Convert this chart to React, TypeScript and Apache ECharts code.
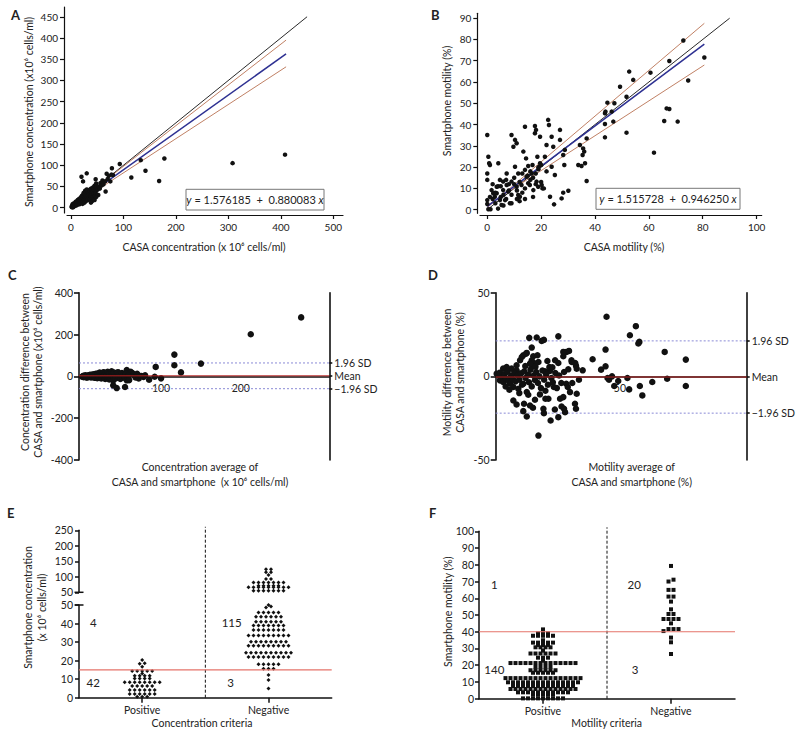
import React, { useEffect, useRef } from 'react';
import * as echarts from 'echarts';

const FONT = 'Lato, "Noto Sans", sans-serif';
const INK = '#111111';
const TXT = '#222222';
const RED = '#e5736a';
const BROWN = '#b0603c';
const BLUE = '#2e3192';
const SDBLUE = '#8a8ad6';
const MEANRED = '#b52020';

// ---------------- Panel A ----------------
const aTicksX = [0, 100, 200, 300, 400, 500];
const aTicksY = [0, 50, 100, 150, 200, 250, 300, 350, 400, 450];
const aPoints = [[408,125],[308,105],[178,116],[168,63],[142,87],[133,112],[115,71],[93,103],[78,93],[77,78],[68,80],[66,38],[30,81],[20,73],[23,62],[47,67],[60,64],
[1,2],[2,1],[2,5],[3,3],[3,8],[4,4],[4,1],[5,6],[5,10],[6,3],[6,7],[7,9],[7,5],[8,11],[8,6],[9,8],[9,14],[10,10],[10,5],[11,13],[11,9],[12,16],[12,7],[13,12],[13,18],[14,10],[14,15],[15,20],[15,13],[16,8],[16,17],[17,22],[17,14],[18,11],[18,19],[19,25],[19,16],[20,13],[20,20],[21,28],[21,18],[22,9],[22,24],[23,15],[23,30],[24,21],[24,35],[25,18],[25,27],[26,12],[26,33],[27,24],[27,40],[28,20],[28,30],[29,16],[29,36],[30,26],[30,43],[31,22],[31,32],[32,18],[32,38],[33,28],[34,24],[34,35],[35,42],[35,30],[36,20],[36,38],[37,33],[38,27],[38,45],[39,36],[40,30],[40,42],[41,24],[42,38],[42,48],[43,33],[44,44],[45,28],[45,52],[46,40],[47,35],[48,48],[48,57],[50,42],[52,30],[53,50],[55,45],[56,58],[58,52],[60,60],[62,55],[65,62],[70,68],[72,75],[75,62],[80,77],[40,15],[43,20],[38,12],[45,18],[50,30],[48,25]];
const aIdentity = [[0, 0], [450, 450]];
const aFit = [[0, 1.576], [410, 362.4]];
const aBandUpper = [[0, 1.5], [410, 395]];
const aBandLower = [[0, 1.5], [410, 332]];
const aEquation = ['1.576185', '0.880083'];

// ---------------- Panel B ----------------
const bTicksX = [0, 20, 40, 60, 80, 100];
const bTicksY = [0, 10, 20, 30, 40, 50, 60, 70, 80, 90];
const bPoints = [[0,35.1],[0,17],[0,14],[0.4,24.9],[0.7,21.8],[1,21],[0,4.5],[0,2.7],[0.4,0.2],[1.2,0.2],[1.6,9.2],[2.2,7.7],[2.8,6.1],[3.5,7.7],[3.5,10.8],[4.1,21.8],[4.7,14],[4.7,4.5],[5.3,2.2],[5.9,9.2],[5.9,13.2],[6.6,4.5],[7.2,17],[7.2,11.6],[7.8,8.5],[8.4,3],[9,35.1],[9,13.2],[9.7,29.6],[10.3,32.8],[10.9,31.2],[10.3,20.2],[10.9,10.8],[11.5,17],[11.5,6.9],[12.1,6.1],[12.7,11.6],[13.4,27.3],[14,18.7],[14,39],[14.4,24.1],[14.6,15.5],[15.2,20.5],[15.2,12.4],[15.8,11.6],[16.5,17],[16.8,21],[17.1,9.2],[17.7,39.3],[17.7,35.9],[18.1,37.5],[18.3,13.2],[18.6,24.9],[18.9,10.8],[19.6,21.8],[19.6,34.3],[20.2,11.6],[20.5,10],[21.4,24.9],[22,30.4],[22.6,42.2],[22.9,39.8],[23.3,6.1],[23.9,34.3],[23.9,20.2],[24.5,29.6],[24.8,2.5],[25.1,16.3],[27,37.5],[27,32.8],[27.6,5.3],[28.2,25.7],[28.6,21],[28.2,8],[28.8,28.1],[30.1,8.9],[33.8,21],[34.4,30.4],[35,20.5],[35.4,25.7],[35.6,28.8],[36,27.3],[36.3,21.8],[36.9,33.5],[36.9,13.5],[43.7,45.3],[43.9,46.1],[43.7,40.3],[43.7,34],[44.6,50.3],[46.2,46.1],[46.8,41.4],[47.2,50],[49.3,57.8],[51.7,53.1],[51.7,36.2],[52.7,64.9],[54.2,61],[60.6,64.4],[61.9,26.8],[65.7,41.7],[66.6,47.6],[67.6,47.3],[67.6,69.9],[70.7,41.4],[72.8,79.5],[74.6,60.7],[80.6,71.5],
[2,5],[3,8],[3,3],[4,11],[5,6],[6,7],[6,2],[7,5],[8,12],[8,9],[9,7],[9,3],[10,12],[11,9],[11,5],[12,13],[12,4],[13,8],[13,17],[14,10],[15,16],[16,18],[17,15],[17,6],[18,12],[19,19],[20,13],[21,10],[4,0.5],[1,6],[2,12],[5,11],[7,14],[10,15],[14,5],[16,14],[18,17],[19,20],[20,21],[22,18]];
const bIdentity = [[0, 0], [90, 90]];
const bFit = [[0, 1.516], [80.6, 77.8]];
const bBandUpper = [[0, 1], [80.6, 87.6]];
const bBandLower = [[0, 2], [80.6, 68]];
const bEquation = ['1.515728', '0.946250'];

// ---------------- Panel C ----------------
const cTicksY = [-400, -200, 0, 200, 400];
const cTicksX = [100, 200];
const cPoints = [[275.7,282],[212.5,201.6],[116.7,104],[116.7,53],[150,61],[125,19],[93.3,45],[100,-9.6],[85,-16],[54.8,-51],[44.4,-56],[40,-43],[57,-19],[78,-3],[64,16],[57,30],[62,22],
[1,-2],[2,1],[3,-4],[3,3],[4,0],[5,-3],[5,5],[6,2],[7,-1],[7,-6],[8,4],[9,0],[9,-3],[10,6],[10,-2],[11,2],[12,-5],[12,8],[13,0],[14,3],[14,-4],[15,10],[15,-1],[16,5],[17,-7],[17,2],[18,12],[18,-3],[19,6],[20,0],[20,-9],[21,8],[21,14],[22,-2],[22,4],[23,-6],[23,18],[24,2],[25,10],[25,-10],[26,-1],[26,5],[27,13],[27,-4],[28,20],[28,0],[29,-8],[29,8],[30,3],[30,-12],[31,15],[31,-2],[32,6],[33,-5],[33,22],[34,1],[34,11],[35,-15],[35,-3],[36,8],[36,17],[37,-8],[38,3],[38,24],[39,-1],[39,12],[40,-20],[40,6],[41,-4],[41,18],[42,9],[43,0],[43,-10],[44,14],[45,4],[45,-6],[46,20],[47,-2],[48,10],[49,-12],[50,3],[51,16],[52,-5],[53,7],[54,0],[55,-8],[56,12],[58,-3],[59,5],[60,-18],[66,8],[68,-5],[70,12],[72,-10],[75,2],[80,5],[92,-2]];
const cMean = 2.5;
const cSdUpper = 64;
const cSdLower = -59;

// ---------------- Panel D ----------------
const dTicksY = [-50, 0, 50];
const dTicksX = [50];
const dPoints = [[44.6,35.6],[56.4,30],[54,24.6],[57.8,20.6],[57.4,19.6],[68,14.6],[76.5,10],[39,10.2],[42.4,4],[44.2,6],[44.2,16],[35,3.6],[45,-1],[45.6,-2],[46.8,0],[47.7,-5.8],[49.3,-2.8],[53,-1],[53.7,-7.8],[58,-5.8],[59,-11.4],[63,-3.4],[69,-1.4],[76.5,-5.8],
[13.5,23],[16.5,23.2],[18.5,21.2],[19.4,21.8],[25.2,23.9],[14.5,17.2],[11.1,12.6],[12.5,14],[15.1,12],[14.5,9.6],[15.4,8],[14.9,6],[27.2,12],[28.5,14.6],[29.5,15.2],[30.5,9.6],[32,8],[32.3,6.4],[20.8,9.2],[25.2,8],[21.8,3.2],[19.8,3],[27.5,2.6],[29.2,4.2],[23.9,9.6],[27.2,14.6],[30.6,8.6],[32.6,4.6],[16.8,12.6],[17.2,8.6],[9.8,9.6],[10.5,11.6],[12.2,13.6],[13.8,7.6],[8.4,6.6],[8.4,3.6],[6.4,4.6],[4.4,5.6],[3,4.6],
[0.4,1.6],[1,0.6],[1.7,2.2],[2.3,-0.6],[1.7,-2.4],[3,-3.4],[3.6,1.2],[4.2,-1.5],[4.8,2.8],[5.2,-2.6],[5.8,-4.4],[6.2,0.4],[6.9,-1.8],[7.1,-6.4],[7.5,2],[8,-3],[8.8,0.8],[9.1,-7.4],[9.5,-2],[10.2,1.8],[10.6,-5],[11.1,-4.4],[11.5,3],[12,-1],[12.5,-9.4],[13,1],[13.4,-3.5],[14,4],[14.5,-6],[15.2,0.5],[15.8,-2.2],[16.3,2.6],[17,-4],[17.6,0],[18.2,-7],[18.8,3.5],[19.5,-2],[20.3,1],[21,-5],[21.6,5.5],[22.4,-1],[23,-3.6],[24,2],[24.6,-7],[25.5,0.5],[26.4,-4],[20,-8.6],[22.8,5.4],[16,5.8],[11.9,6.2],
[17.2,-35.4],[7.1,-14.4],[8.4,-16.8],[11.1,-20.8],[12.5,-24],[11.4,-16.4],[13.8,-17.4],[15.8,-14],[17.8,-10.8],[19.2,-19.4],[19.4,-22],[22.1,-26.4],[20,-13.4],[23.4,-6.4],[25.2,-24.4],[25.9,-13.4],[26.5,-18],[27.5,-19.4],[27.9,-21.4],[28.4,-4.4],[29,-6.4],[29.9,-9.4],[31.9,-16.4],[32.3,-19.4],[32.6,-10.4],[27.2,-12.4],[21.2,-13.4],[13.1,-11],[9.5,-10],[5.5,-8],[4,-6],[15,-18.8],[23.8,-19.8],[30.8,-4],[33.5,-2]];
const dMean = -0.4;
const dSdUpper = 21.2;
const dSdLower = -22;

// ---------------- Panel E ----------------
const eCategories = ['Positive', 'Negative'];
const eTicksLower = [0, 10, 20, 30, 40, 50];
const eTicksUpper = [50, 100, 150, 200, 250];
const ePositive = [20.3,18.6,18.3,16.7,14.4,14.4,14.4,14.4,14.4,13.0,11.9,11.9,11.9,11.9,10.4,10.4,10.4,10.4,8.3,8.3,8.3,8.3,8.3,8.3,8.3,8.3,6.3,6.3,6.3,6.3,6.3,4.1,4.1,4.1,4.1,4.1,4.1,2.0,2.0,2.0,2.0,2.0,2.0,0.5,0.5,0.5];
const eNegative = [5,9.5,12.2,15.6,15.6,15.6,18,18,18,18,18,22,22,22,22,22,22,22,22,22,24.3,24.3,24.3,24.3,24.3,24.3,24.3,24.3,24.3,24.3,28,28,28,28,28,28,28,28,28,30.2,30.2,30.2,30.2,30.2,30.2,30.2,30.2,33.5,33.5,33.5,33.5,33.5,33.5,33.5,33.5,33.5,36.5,36.5,36.5,36.5,36.5,36.5,36.5,39,39,39,39,39,39,39,41,41,41,41,41,41,43.7,43.7,43.7,43.7,43.7,43.7,45.9,45.9,45.9,45.9,45.9,48.6,49.2,50,
55,55,55,55,55,55,55,66,66,66,66,66,66,66,66,66,71,71,71,71,71,82,82,82,82,82,82,82,93,93,106,115,115,124,124];
const eThreshold = 15;
const eCounts = [[0.613, 40.7, '4'], [0.613, 8.3, '42'], [1.708, 40.7, '115'], [1.70, 8.3, '3']];

// ---------------- Panel F ----------------
const fCategories = ['Positive', 'Negative'];
const fTicksY = [0, 10, 20, 30, 40, 50, 60, 70, 80, 90, 100];
const fPositive = [41.4,39,39,39,37.6,37.6,37.6,37.6,37.6,34.9,33.5,33.5,33.5,33.5,33.5,32.1,32.1,32.1,30.7,30.7,30.7,30.7,28.7,27,27,27,27,27,27,24.5,24.5,24.5,22.7,
21.3,21.3,21.3,21.3,21.3,21.3,21.3,21.3,21.3,21.3,21.3,21.3,21.3,21.3,19,19,19,19,17,17,17,17,17,17,15.5,15.5,15.5,15.5,15.5,
12.3,12.3,12.3,12.3,12.3,12.3,12.3,12.3,12.3,12.3,12.3,12.3,12.3,12.3,12.3,12.3,
9.8,9.8,9.8,9.8,9.8,9.8,9.8,9.8,9.8,9.8,9.8,9.8,9.8,9.8,9.8,
7.6,7.6,7.6,7.6,7.6,7.6,7.6,7.6,7.6,7.6,7.6,7.6,7.6,
5.8,5.8,5.8,5.8,5.8,5.8,5.8,5.8,5.8,5.8,5.8,5.8,5.8,5.8,
3.8,3.8,3.8,3.8,3.8,3.8,3.8,3.8,3.8,3.8,3.8,2.4,2.4,2.4,2.4,2.4,0.2,0.2,0.2,0.2,0.2,0.2,0.2,0.2,0.2];
const fNegative = [79.3,71.1,70,65,65,61,61,58,53.4,50.6,50.6,47.6,47.6,47.6,47.6,45,41.6,41.6,41.6,40.4,36.5,33.7,26.7];
const fThreshold = 40;
const fCounts = [[0.62, 68.3, '1'], [0.62, 17.7, '140'], [1.713, 68.3, '20'], [1.72, 17.7, '3']];

// ---------------- layout ----------------
const G = {
  A: { left: 67, top: 7, width: 276, height: 206 },
  B: { left: 480, top: 13.3, width: 281.7, height: 200 },
  C: { left: 79, top: 292.7, width: 250.3, height: 167.3 },
  D: { left: 495.7, top: 292.7, width: 251, height: 167.3 },
  EU: { left: 79, top: 530.3, width: 252.7, height: 62 },
  EL: { left: 79, top: 605, width: 252.7, height: 92.7 },
  EO: { left: 79, top: 526.7, width: 252.7, height: 171 },
  F: { left: 479, top: 531.3, width: 256, height: 167.4 },
  FO: { left: 479, top: 527.3, width: 256, height: 171.4 },
};
const CX = [-2.9, 311];
const DX = [0, 101];
const CATX = [0.5, 2.5];

// dot-row layout for column scatter (rows of near-equal values spread sideways)
function rowSwarm(values: number[], center: number, tol: number, step: number): number[][] {
  const sorted = [...values].sort((a, b) => a - b);
  const rows: number[][] = [];
  for (const v of sorted) {
    const row = rows[rows.length - 1];
    if (row && v - row[0] <= tol + 1e-9) row.push(v);
    else rows.push([v]);
  }
  const out: number[][] = [];
  rows.forEach((row) => row.forEach((v, i) => out.push([center + (i - (row.length - 1) / 2) * step, v])));
  return out;
}

function axis(p: any) {
  const {
    grid, min, max, ticks, labels, line = 1.2, tickLen = 4, offset = 0, position,
    show = true, fontSize = 10, labelMargin = 6, formatter,
  } = p;
  return {
    type: 'value', gridIndex: grid, min, max, position, offset, show,
    splitLine: { show: false },
    axisLine: { show: true, onZero: false, lineStyle: { color: INK, width: line } },
    axisTick: ticks
      ? { show: true, customValues: ticks, length: tickLen, lineStyle: { color: INK, width: line } }
      : { show: false },
    axisLabel: labels
      ? { show: true, customValues: labels, margin: labelMargin, color: TXT, fontSize, fontFamily: FONT, formatter }
      : { show: false },
  };
}

function txt(x: number, y: number, text: string, o: any = {}) {
  return {
    type: 'text', x, y, rotation: o.rotate ? Math.PI / 2 : 0, z: 100,
    style: {
      text, fill: o.color || TXT, fontSize: o.size || 10.5, fontFamily: FONT,
      fontWeight: o.bold ? 'bold' : 'normal',
      align: o.align || 'center', verticalAlign: 'middle',
      textAlign: o.align || 'center', textVerticalAlign: 'middle',
      lineHeight: o.lh || 13.5,
    },
  };
}

function eqBox(x: number, y: number, w: number, h: number, coef: string[]) {
  return {
    type: 'group', z: 100,
    children: [
      { type: 'rect', shape: { x, y, width: w, height: h }, style: { fill: '#fff', stroke: '#777', lineWidth: 1 } },
      {
        type: 'text', x: x + w / 2, y: y + h / 2,
        style: {
          text: `{i|y} = ${coef[0]}  +  ${coef[1]} {i|x}`,
          fill: TXT, fontSize: 11, fontFamily: FONT,
          align: 'center', verticalAlign: 'middle', textAlign: 'center', textVerticalAlign: 'middle',
          rich: { i: { fontStyle: 'italic', fontSize: 11, fontFamily: FONT, fill: TXT, color: TXT } },
        },
      },
    ],
  };
}

const lineSeries = (xi: number, yi: number, data: number[][], color: string, width: number, type: any = 'solid', z = 3) => ({
  type: 'line', xAxisIndex: xi, yAxisIndex: yi, data, symbol: 'none', silent: true, z,
  lineStyle: { color, width, type, opacity: 1 }, itemStyle: { color },
});

const hLine = (xi: number, yi: number, xr: number[], y: number, color: string, width: number, type: any = 'solid', z = 3) =>
  lineSeries(xi, yi, [[xr[0], y], [xr[1], y]], color, width, type, z);

const countSeries = (xi: number, yi: number, data: any[]) => ({
  type: 'scatter', xAxisIndex: xi, yAxisIndex: yi, data, symbolSize: 0, silent: true, z: 5,
  itemStyle: { color: TXT, opacity: 1 },
  label: { show: true, position: 'inside', formatter: (p: any) => String(p.value[2]), color: TXT, fontSize: 11.5, fontFamily: FONT, textBorderWidth: 0 },
});

const dots = (xi: number, yi: number, data: number[][], size: number, symbol = 'circle') => ({
  type: 'scatter', xAxisIndex: xi, yAxisIndex: yi, data, symbol, symbolSize: size,
  itemStyle: { color: INK, opacity: 1 }, z: 4,
});

function buildOption() {
  const eStep = 5 / (G.EL.width / 2);
  const fStep = 5 / (G.F.width / 2);
  const ePos = rowSwarm(ePositive, 1, 1.0, eStep);
  const eNegLow = rowSwarm(eNegative.filter((v) => v <= 50), 2, 1.0, eStep);
  const eNegUp = rowSwarm(eNegative.filter((v) => v > 50), 2, 2.5, eStep);
  const fPos = rowSwarm(fPositive, 1, 1.3, fStep);
  const fNeg = rowSwarm(fNegative, 2, 1.3, fStep);
  const catFmt = (cats: string[]) => (v: number) => cats[Math.round(v) - 1] || '';
  const sdFmt = (u: number, m: number, l: number) => (v: number) =>
    Math.abs(v - u) < 1e-6 ? '1.96 SD' : Math.abs(v - m) < 1e-6 ? 'Mean' : Math.abs(v - l) < 1e-6 ? '\u22121.96 SD' : '';
  const grids = [G.A, G.B, G.C, G.D, G.EU, G.EL, G.EO, G.F, G.FO].map((g) => ({ ...g, outerBoundsMode: 'none', containLabel: false }));
  // x-axis of the difference plots sits on the zero line (middle of a symmetric range)
  const cZeroOffset = -(G.C.height / 2);
  const dZeroOffset = -(G.D.height / 2);

  const xAxis = [
    axis({ grid: 0, min: -7.6, max: 518.5, ticks: aTicksX, labels: aTicksX, offset: 2, labelMargin: 7 }),
    axis({ grid: 1, min: -2.7, max: 101.9, ticks: bTicksX, labels: bTicksX, offset: 1.7, labelMargin: 7 }),
    axis({ grid: 2, min: CX[0], max: CX[1], labels: cTicksX, line: 1.6, offset: cZeroOffset, labelMargin: 6, fontSize: 10.5 }),
    axis({ grid: 3, min: DX[0], max: DX[1], labels: dTicksX, line: 1.6, offset: dZeroOffset, labelMargin: 6, fontSize: 10.5 }),
    axis({ grid: 4, min: CATX[0], max: CATX[1], show: false }),
    axis({ grid: 5, min: CATX[0], max: CATX[1], ticks: [1, 2], labels: [1, 2], line: 1.5, tickLen: 5, labelMargin: 7, fontSize: 10.5, formatter: catFmt(eCategories) }),
    axis({ grid: 6, min: CATX[0], max: CATX[1], show: false }),
    axis({ grid: 7, min: CATX[0], max: CATX[1], ticks: [1, 2], labels: [1, 2], line: 1.5, tickLen: 5, labelMargin: 7, fontSize: 10.5, formatter: catFmt(fCategories) }),
    axis({ grid: 8, min: CATX[0], max: CATX[1], show: false }),
  ];
  const yAxis = [
    axis({ grid: 0, min: -12.5, max: 473, ticks: aTicksY, labels: aTicksY, offset: 3 }),
    axis({ grid: 1, min: -1.7, max: 92.3, ticks: bTicksY, labels: bTicksY, offset: 2.7 }),
    axis({ grid: 2, min: -400, max: 400, ticks: cTicksY, labels: cTicksY, line: 1.6, tickLen: 5, fontSize: 10.5 }),
    axis({ grid: 2, min: -400, max: 400, position: 'right', ticks: [cSdUpper, cMean, cSdLower], labels: [cSdUpper, cMean, cSdLower], line: 1.6, tickLen: 3, labelMargin: 5, fontSize: 10.5, formatter: sdFmt(cSdUpper, cMean, cSdLower) }),
    axis({ grid: 3, min: -50, max: 50, ticks: dTicksY, labels: dTicksY, line: 1.6, tickLen: 5, fontSize: 10.5 }),
    axis({ grid: 3, min: -50, max: 50, position: 'right', ticks: [dSdUpper, dMean, dSdLower], labels: [dSdUpper, dMean, dSdLower], line: 1.6, tickLen: 3, labelMargin: 5, fontSize: 10.5, formatter: sdFmt(dSdUpper, dMean, dSdLower) }),
    axis({ grid: 4, min: 50, max: 250, ticks: eTicksUpper, labels: eTicksUpper, line: 1.5, tickLen: 4, fontSize: 10.5 }),
    axis({ grid: 5, min: 0, max: 50, ticks: eTicksLower, labels: eTicksLower, line: 1.5, tickLen: 4, fontSize: 10.5 }),
    axis({ grid: 6, min: 0, max: 1, show: false }),
    axis({ grid: 7, min: 0, max: 100, ticks: fTicksY, labels: fTicksY, line: 1.5, tickLen: 4, labelMargin: 5, fontSize: 10.5 }),
    axis({ grid: 8, min: 0, max: 1, show: false }),
  ];

  const series: any[] = [
    // A
    dots(0, 0, aPoints, 4.5),
    lineSeries(0, 0, aIdentity, INK, 0.9),
    lineSeries(0, 0, aBandUpper, BROWN, 0.8),
    lineSeries(0, 0, aBandLower, BROWN, 0.8),
    lineSeries(0, 0, aFit, BLUE, 1.5),
    // B
    dots(1, 1, bPoints, 4.5),
    lineSeries(1, 1, bIdentity, INK, 0.9),
    lineSeries(1, 1, bBandUpper, BROWN, 0.8),
    lineSeries(1, 1, bBandLower, BROWN, 0.8),
    lineSeries(1, 1, bFit, BLUE, 1.5),
    // C
    hLine(2, 2, CX, cSdUpper, SDBLUE, 1, [2, 2], 2),
    hLine(2, 2, CX, cSdLower, SDBLUE, 1, [2, 2], 2),
    dots(2, 2, cPoints, 6.5),
    hLine(2, 2, CX, cMean, MEANRED, 1, 'solid', 5),
    // D
    hLine(3, 4, DX, dSdUpper, SDBLUE, 1, [2, 2], 2),
    hLine(3, 4, DX, dSdLower, SDBLUE, 1, [2, 2], 2),
    dots(3, 4, dPoints, 6.5),
    hLine(3, 4, DX, dMean, MEANRED, 1, 'solid', 5),
    // E
    lineSeries(6, 8, [[1.5, 0], [1.5, 1]], INK, 1, [3, 2], 2),
    dots(5, 7, ePos.concat(eNegLow), 4, 'diamond'),
    dots(4, 6, eNegUp, 4, 'diamond'),
    hLine(5, 7, CATX, eThreshold, RED, 1.2, 'solid', 5),
    countSeries(5, 7, eCounts),
    // F
    lineSeries(8, 10, [[1.5, 0], [1.5, 1]], INK, 1, [3, 2], 2),
    dots(7, 9, fPos.concat(fNeg), 4, 'rect'),
    hLine(7, 9, CATX, fThreshold, RED, 1.2, 'solid', 5),
    countSeries(7, 9, fCounts),
  ];

  const graphic: any[] = [
    txt(11, 15, 'A', { bold: true, size: 13, align: 'left' }),
    txt(431, 15, 'B', { bold: true, size: 13, align: 'left' }),
    txt(8, 275, 'C', { bold: true, size: 13, align: 'left' }),
    txt(428, 275, 'D', { bold: true, size: 13, align: 'left' }),
    txt(7, 513, 'E', { bold: true, size: 13, align: 'left' }),
    txt(429, 513, 'F', { bold: true, size: 13, align: 'left' }),
    txt(29, 112, 'Smartphone concentration (x10\u2076 cells/ml)', { rotate: true }),
    txt(204, 247, 'CASA concentration (x 10\u2076 cells/ml)'),
    txt(446.7, 101, 'Smartphone motility (%)', { rotate: true }),
    txt(624, 247, 'CASA motility (%)'),
    txt(31.7, 372, 'Concentration difference between\nCASA and smartphone (x10\u2076 cells/ml)', { rotate: true, lh: 13.5 }),
    txt(200, 474.5, 'Concentration average of\nCASA and smartphone  (x 10\u2076 cells/ml)', { lh: 15.5 }),
    txt(453.3, 372.5, 'Motility difference between\nCASA and smartphone (%)', { rotate: true, lh: 13.5 }),
    txt(631.7, 474.5, 'Motility average of\nCASA and smartphone (%)', { lh: 15.5 }),
    txt(35, 607.5, 'Smartphone concentration\n(x 10\u2076 cells/ml)', { rotate: true, lh: 13.5 }),
    txt(202, 723.3, 'Concentration criteria'),
    txt(447.7, 611.7, 'Smartphone motility (%)', { rotate: true }),
    txt(606.7, 723.3, 'Motility criteria'),
    eqBox(186, 189.3, 138, 20.7, aEquation),
    eqBox(596, 188.3, 144, 21, bEquation),
    { type: 'line', z: 100, shape: { x1: 74.5, y1: G.EL.top, x2: 83.5, y2: G.EL.top }, style: { stroke: INK, lineWidth: 1.5 } },
    { type: 'line', z: 100, shape: { x1: 74.5, y1: G.EU.top + G.EU.height, x2: 83.5, y2: G.EU.top + G.EU.height }, style: { stroke: INK, lineWidth: 1.5 } },
  ];

  return {
    animation: false,
    backgroundColor: '#fff',
    textStyle: { fontFamily: FONT },
    grid: grids,
    xAxis,
    yAxis,
    series,
    graphic,
  };
}

export default function App() {
  const ref = useRef<HTMLDivElement>(null);
  useEffect(() => {
    if (!ref.current) return;
    const chart = echarts.init(ref.current, null, { renderer: 'svg' });
    chart.setOption(buildOption() as any);
    return () => chart.dispose();
  }, []);
  return <div ref={ref} style={{ position: 'absolute', left: 0, top: 0, width: 800, height: 737, background: '#fff' }} />;
}
